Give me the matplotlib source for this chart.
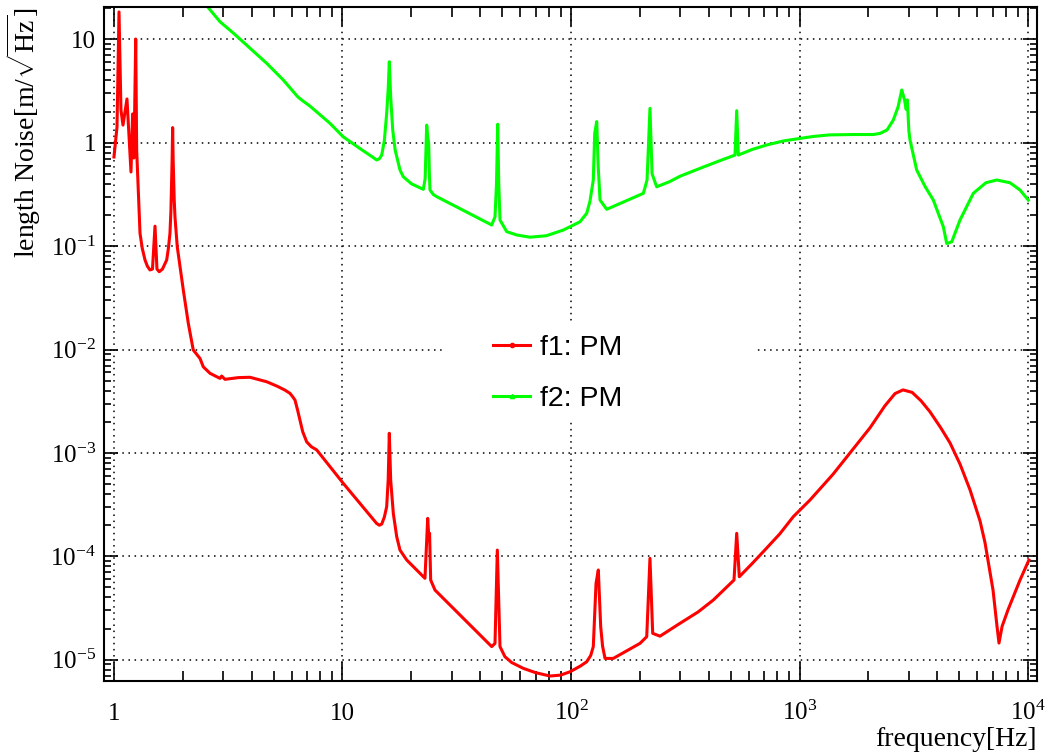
import numpy as np
import matplotlib
matplotlib.use('Agg')
import matplotlib.pyplot as plt
from matplotlib.lines import Line2D
from matplotlib.patches import Rectangle
from matplotlib.ticker import LogLocator, NullFormatter

plt.rcParams['font.family'] = 'Liberation Serif'
plt.rcParams['mathtext.fontset'] = 'custom'
plt.rcParams['mathtext.rm'] = 'Liberation Serif'
plt.rcParams['mathtext.it'] = 'Liberation Serif:italic'
plt.rcParams['mathtext.bf'] = 'Liberation Serif:bold'

# f1: PM  (frequency [Hz], length noise [m/sqrt(Hz)])
f1_freq = [1.000, 1.031, 1.052, 1.073, 1.095, 1.140, 1.187, 1.207, 1.223, 1.245,
           1.257, 1.300, 1.330, 1.367, 1.400, 1.437, 1.474, 1.512, 1.542, 1.578,
           1.630, 1.701, 1.730, 1.758, 1.775, 1.797, 1.806, 1.815, 1.835, 1.849,
           1.892, 2.011, 2.115, 2.223, 2.379, 2.460, 2.632, 2.910, 2.960, 3.060,
           3.500, 3.937, 4.660, 5.200, 5.600, 5.891, 6.050, 6.196, 6.360, 6.516,
           6.700, 6.971, 7.300, 7.711, 10.08, 13.60, 14.11, 14.50, 14.85, 15.25,
           15.61, 15.85, 16.03, 16.25, 16.69, 17.27, 17.85, 19.10, 22.96, 23.60,
           23.90, 24.05, 24.32, 25.40, 44.98, 46.5, 47.6, 48.9, 51.4, 55.0,
           61.8, 70.0, 80.9, 90.0, 99.0, 110.0, 117.2, 122.0, 125.2, 128.7,
           131.7, 134.9, 137.5, 140.9, 153.1, 200.4, 214.5, 221.6, 227.8, 245.2,
           299.9, 360.0, 419.6, 516.9, 531.1, 545.2, 620.0, 694.5, 820.0, 939.6,
           1111, 1400, 1663, 2035, 2363, 2618, 2838, 3112, 3400, 3724,
           4151, 4557, 5040, 5574, 6166, 6486, 7031, 7300, 7464, 7700,
           8170, 9226, 10090]
f1_noise = [0.728, 1.42, 18.4, 2.07, 1.48, 2.65, 0.521, 1.90, 0.711, 10.07,
            0.849, 0.133, 0.095, 0.0735, 0.064, 0.0588, 0.060, 0.156, 0.060, 0.0565,
            0.060, 0.0735, 0.095, 0.133, 0.22, 0.70, 1.40, 0.70, 0.28, 0.192,
            0.0986, 0.0376, 0.0179, 9.9e-3, 8.2e-3, 6.8e-3, 5.89e-3, 5.26e-3, 5.54e-3, 5.15e-3,
            5.35e-3, 5.39e-3, 4.88e-3, 4.40e-3, 4.05e-3, 3.77e-3, 3.50e-3, 3.25e-3, 2.60e-3, 2.08e-3,
            1.60e-3, 1.28e-3, 1.15e-3, 1.07e-3, 5.08e-4, 2.30e-4, 2.08e-4, 2.00e-4, 2.05e-4, 2.40e-4,
            3.02e-4, 5.5e-4, 1.55e-3, 5.5e-4, 2.6e-4, 1.55e-4, 1.15e-4, 9.22e-5, 6.13e-5, 2.33e-4,
            1.45e-4, 1.67e-4, 5.9e-5, 4.72e-5, 1.34e-5, 1.44e-5, 1.15e-4, 1.34e-5, 1.07e-5, 9.4e-6,
            8.26e-6, 7.5e-6, 6.96e-6, 7.1e-6, 7.65e-6, 8.7e-6, 9.57e-6, 1.1e-5, 1.34e-5, 5.48e-5,
            7.38e-5, 2.08e-5, 1.35e-5, 1.03e-5, 1.03e-5, 1.44e-5, 1.67e-5, 9.57e-5, 1.80e-5, 1.69e-5,
            2.25e-5, 2.9e-5, 3.78e-5, 5.9e-5, 1.67e-4, 6.35e-5, 8.5e-5, 1.11e-4, 1.65e-4, 2.42e-4,
            3.50e-4, 6.2e-4, 1.0e-3, 1.75e-3, 2.85e-3, 3.75e-3, 4.07e-3, 3.85e-3, 3.2e-3, 2.5e-3,
            1.75e-3, 1.25e-3, 7.8e-4, 4.4e-4, 2.2e-4, 1.35e-4, 4.7e-5, 2.2e-5, 1.45e-5, 2.1e-5,
            3.03e-5, 5.9e-5, 9.2e-5]

# f2: PM
f2_freq = [2.45, 2.578, 2.910, 3.328, 4.660, 5.508, 6.38, 6.72, 7.207, 8.816,
           10.08, 12.0, 13.5, 14.11, 14.5, 14.85, 15.25, 15.61, 15.85, 16.03,
           16.25, 16.59, 17.0, 17.85, 18.45, 20.06, 22.58, 23.0, 23.36, 23.6,
           23.84, 24.0, 24.15, 25.0, 25.84, 44.98, 46.5, 47.2, 47.78, 48.3,
           48.9, 52.32, 58.0, 66.16, 78.0, 92.5, 109.5, 117.2, 121.0, 125.2,
           127.0, 129.6, 131.5, 134.0, 143.3, 207.3, 215.2, 221.6, 226.4, 237.1,
           270.0, 299.9, 366.9, 440.0, 522.1, 531.1, 539.8, 620.0, 718.6, 850.0,
           1005, 1150, 1350, 1720, 2100, 2251, 2417, 2574, 2700, 2802,
           2880, 2930, 2965, 3010, 3045, 3257, 3550, 3851, 4259, 4408,
           4636, 5040, 5762, 6540, 7295, 8340, 9226, 10030]
f2_noise = [26.0, 20.4, 14.8, 11.5, 5.86, 4.04, 2.77, 2.53, 2.26, 1.54,
            1.14, 0.87, 0.73, 0.681, 0.70, 0.76, 1.05, 1.92, 3.3, 6.07,
            2.8, 1.33, 0.85, 0.545, 0.469, 0.40, 0.354, 0.45, 1.48, 1.15,
            0.986, 0.5, 0.349, 0.315, 0.301, 0.160, 0.192, 0.40, 1.51, 0.40,
            0.179, 0.138, 0.128, 0.122, 0.126, 0.143, 0.172, 0.208, 0.27, 0.436,
            1.23, 1.60, 0.60, 0.279, 0.227, 0.324, 0.436, 2.15, 0.50, 0.375,
            0.42, 0.474, 0.565, 0.66, 0.760, 2.04, 0.760, 0.86, 0.951, 1.04,
            1.10, 1.15, 1.19, 1.20, 1.20, 1.23, 1.33, 1.66, 2.22, 3.24,
            2.6, 2.1, 2.6, 1.3, 1.06, 0.545, 0.375, 0.279, 0.154, 0.106,
            0.110, 0.179, 0.324, 0.410, 0.436, 0.410, 0.349, 0.279]

xticks = [1, 10, 100, 1000, 10000]
xticklabels = ['1', '10', r'$10^{2}$', r'$10^{3}$', r'$10^{4}$']
yticks = [1e-5, 1e-4, 1e-3, 1e-2, 1e-1, 1, 10]
yticklabels = [r'$10^{-5}$', r'$10^{-4}$', r'$10^{-3}$', r'$10^{-2}$', r'$10^{-1}$', '1', '10']

fig = plt.figure(figsize=(10.46, 7.52), dpi=100)
ax = fig.add_axes([0.0997, 0.0948, 0.8914, 0.8955])

ax.plot(f1_freq, f1_noise, color='#ff0000', lw=2.2)
ax.plot(f2_freq, f2_noise, color='#00ff00', lw=2.2)

ax.set_xscale('log')
ax.set_yscale('log')
ax.set_xlim(0.907, 10914)
ax.set_ylim(6.27e-6, 20.4)

ax.set_xticks(xticks)
ax.set_xticklabels(xticklabels)
ax.set_yticks(yticks)
ax.set_yticklabels(yticklabels)
sub = np.arange(2, 10)
ax.xaxis.set_minor_locator(LogLocator(base=10, subs=sub, numticks=100))
ax.yaxis.set_minor_locator(LogLocator(base=10, subs=sub, numticks=100))
ax.xaxis.set_minor_formatter(NullFormatter())
ax.yaxis.set_minor_formatter(NullFormatter())

ax.tick_params(which='both', direction='in', top=True, right=True, width=1.2)
ax.tick_params(axis='x', which='major', length=14, labelsize=18, pad=28)
ax.tick_params(axis='x', which='minor', length=7)
ax.tick_params(axis='y', which='major', length=10, labelsize=18, pad=6)
ax.tick_params(axis='y', which='minor', length=5)
plt.setp(ax.get_xticklabels(), va='baseline')

for s in ax.spines.values():
    s.set_linewidth(1.5)

ax.grid(True, which='major', color='black', linestyle=(0, (1, 3)), linewidth=1.1)

ax.set_xlabel('frequency[Hz]', fontsize=20, loc='right')
ax.xaxis.set_label_coords(1.0, -0.068)
ax.set_ylabel(r'length Noise[m/$\sqrt{\mathrm{Hz}}$]', fontsize=20, loc='top')
ax.yaxis.set_label_coords(-0.066, 1.0)

# legend: white box covering the grid, entries without frame
ax.add_patch(Rectangle((0.365, 0.387), 0.334, 0.141, transform=ax.transAxes,
                       facecolor='white', edgecolor='none', zorder=1.8))
handles = [Line2D([], [], color='#ff0000', lw=2.2, marker='o', markersize=3),
           Line2D([], [], color='#00ff00', lw=2.2, marker='^', markersize=3)]
ax.legend(handles, ['f1: PM', 'f2: PM'], loc='upper left',
          bbox_to_anchor=(0.4169, 0.514), frameon=False,
          prop={'family': 'Liberation Sans', 'size': 20.5},
          handlelength=1.3, handletextpad=0.35, labelspacing=0.89,
          borderpad=0, borderaxespad=0)

fig.savefig('out.png', dpi=100)
